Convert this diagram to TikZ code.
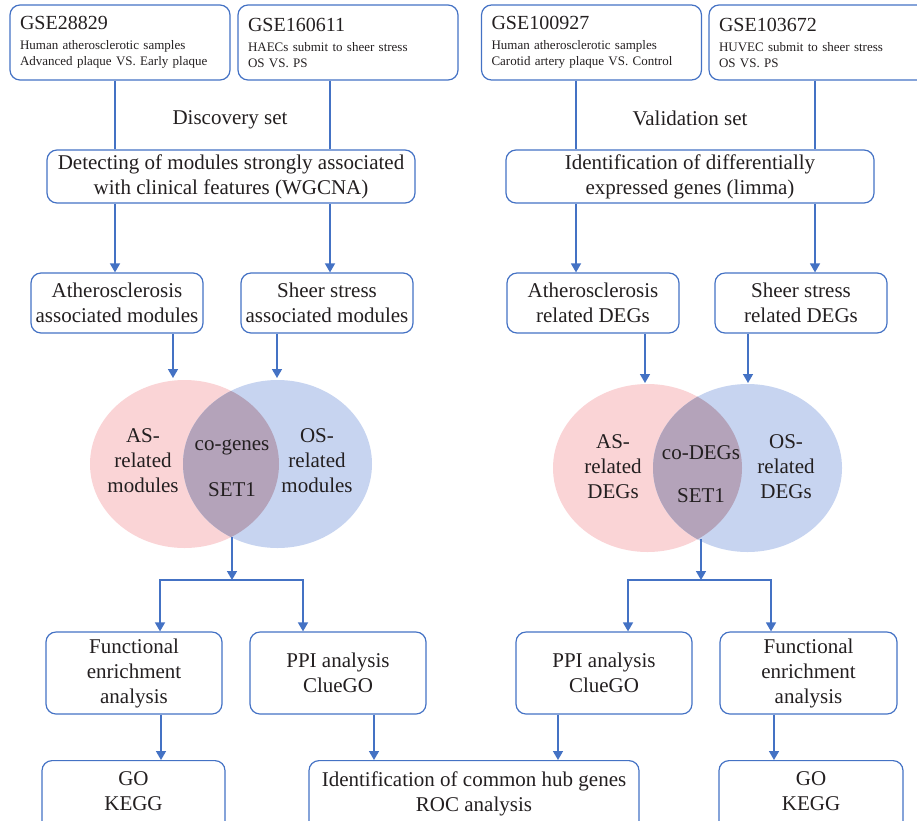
\documentclass[tikz,border=0pt]{standalone}
\usepackage{fontspec}
\setmainfont{Liberation Serif}
\usetikzlibrary{arrows.meta}

\definecolor{linkblue}{RGB}{68,114,196}
\definecolor{aspink}{RGB}{250,212,214}
\definecolor{osblue}{RGB}{199,212,240}
\definecolor{comauve}{RGB}{180,163,186}
\definecolor{inkgray}{RGB}{35,31,32}

\tikzset{
  box/.style={draw=linkblue, line width=1.2pt, rounded corners=10pt, align=center,
    inner sep=0pt, text=inkgray, font=\fontsize{21}{25}\selectfont},
  topbox/.style={box, align=left, text width=200pt, minimum width=220pt,
    minimum height=75pt, inner xsep=10pt, font=\fontsize{13}{16}\selectfont},
  cutbox/.style={box, anchor=north, inner ysep=11pt},
  vtext/.style={align=center, text=inkgray, font=\fontsize{21}{25}\selectfont},
  link/.style={draw=linkblue, line width=1.5pt},
  arr/.style={link, -{Triangle[width=10pt,length=9pt]}},
}

\begin{document}
\begin{tikzpicture}[x=1pt, y=-1pt]
    \useasboundingbox (0,0) rectangle (917,820);

    % columns of the connectors
    \coordinate (a1) at (115,0);
    \coordinate (a2) at (330,0);
    \coordinate (a3) at (576,0);
    \coordinate (a4) at (815,0);
    \coordinate (b1) at (173,378);
    \coordinate (b2) at (277,378);
    \coordinate (b3) at (645,383);
    \coordinate (b4) at (748,383);
    \coordinate (c1) at (160,0);
    \coordinate (c2) at (303,0);
    \coordinate (c3) at (628,0);
    \coordinate (c4) at (771,0);
    \coordinate (d1) at (161,0);
    \coordinate (d2) at (374,0);
    \coordinate (d3) at (558,0);
    \coordinate (d4) at (774,0);

    % data sets
    \node[topbox] (gse1) at (120,42.5) {{\fontsize{20}{20}\selectfont GSE28829}\\[4pt]
        Human atherosclerotic samples\\Advanced plaque VS. Early plaque};
    \node[topbox] (gse2) at (348,42.5) {{\fontsize{20}{20}\selectfont GSE160611}\\[4pt]
        HAECs submit to sheer stress\\OS VS. PS};
    \node[topbox] (gse3) at (591.5,42.5) {{\fontsize{20}{20}\selectfont GSE100927}\\[4pt]
        Human atherosclerotic samples\\Carotid artery plaque VS. Control};
    \node[topbox] (gse4) at (819,42.5) {{\fontsize{20}{20}\selectfont GSE103672}\\[4pt]
        HUVEC submit to sheer stress\\OS VS. PS};

    \node[vtext] (discovery) at (230,120) {Discovery set};
    \node[vtext] (validation) at (690,118) {Validation set};

    \node[box, minimum width=368pt, minimum height=53pt] (wgcna) at (231,176.5)
        {Detecting of modules strongly associated\\with clinical features (WGCNA)};
    \node[box, minimum width=368pt, minimum height=53pt] (limma) at (690,176.5)
        {Identification of differentially\\expressed genes (limma)};

    \node[box, minimum width=172pt, minimum height=60pt] (asmod) at (117,303)
        {Atherosclerosis\\associated modules};
    \node[box, minimum width=172pt, minimum height=60pt] (ssmod) at (327,303)
        {Sheer stress\\associated modules};
    \node[box, minimum width=172pt, minimum height=60pt] (asdeg) at (593,303)
        {Atherosclerosis\\related DEGs};
    \node[box, minimum width=172pt, minimum height=60pt] (ssdeg) at (801,303)
        {Sheer stress\\related DEGs};

    % venn diagrams
    \fill[aspink] (184.5,464) ellipse [x radius=94.5, y radius=84];
    \fill[osblue] (277.5,464) ellipse [x radius=94.5, y radius=84];
    \begin{scope}
        \clip (184.5,464) ellipse [x radius=94.5, y radius=84];
        \fill[comauve] (277.5,464) ellipse [x radius=94.5, y radius=84];
    \end{scope}
    \fill[aspink] (647.5,468) ellipse [x radius=94.5, y radius=84];
    \fill[osblue] (747.5,468) ellipse [x radius=94.5, y radius=84];
    \begin{scope}
        \clip (647.5,468) ellipse [x radius=94.5, y radius=84];
        \fill[comauve] (747.5,468) ellipse [x radius=94.5, y radius=84];
    \end{scope}

    \node[vtext] (asmodset) at (143,461) {AS-\\related\\modules};
    \node[vtext] (cogenes) at (232,447) {co-genes};
    \node[vtext] (setleft) at (232,490) {SET1};
    \node[vtext] (osmodset) at (317,461) {OS-\\related\\modules};
    \node[vtext] (asdegset) at (613,467) {AS-\\related\\DEGs};
    \node[vtext] (codegs) at (701,453) {co-DEGs};
    \node[vtext] (setright) at (701,496) {SET1};
    \node[vtext] (osdegset) at (786,467) {OS-\\related\\DEGs};

    \coordinate (lensL) at (232,537);
    \coordinate (forkL) at (232,580);
    \coordinate (lensR) at (701,539);
    \coordinate (forkR) at (701,580);

    % analyses
    \node[box, minimum width=176pt, minimum height=82pt] (funcL) at (134,673)
        {Functional\\enrichment\\analysis};
    \node[box, minimum width=176pt, minimum height=82pt] (ppiL) at (338,673)
        {PPI analysis\\ClueGO};
    \node[box, minimum width=176pt, minimum height=82pt] (ppiR) at (604,673)
        {PPI analysis\\ClueGO};
    \node[box, minimum width=177pt, minimum height=82pt] (funcR) at (808.5,673)
        {Functional\\enrichment\\analysis};

    \node[cutbox, minimum width=183pt] (goL) at (133.5,760) {GO\\KEGG\\\strut};
    \node[cutbox, minimum width=330pt] (hub) at (474,760)
        {Identification of common hub genes\\ROC analysis\\\strut};
    \node[cutbox, minimum width=184pt] (goR) at (811,760) {GO\\KEGG\\\strut};

    % connectors
    \draw[link] (gse1.south -| a1) -- (wgcna.north -| a1);
    \draw[link] (gse2.south -| a2) -- (wgcna.north -| a2);
    \draw[link] (gse3.south -| a3) -- (limma.north -| a3);
    \draw[link] (gse4.south -| a4) -- (limma.north -| a4);

    \draw[arr] (wgcna.south -| a1) -- (asmod.north -| a1);
    \draw[arr] (wgcna.south -| a2) -- (ssmod.north -| a2);
    \draw[arr] (limma.south -| a3) -- (asdeg.north -| a3);
    \draw[arr] (limma.south -| a4) -- (ssdeg.north -| a4);

    \draw[arr] (asmod.south -| b1) -- (b1);
    \draw[arr] (ssmod.south -| b2) -- (b2);
    \draw[arr] (asdeg.south -| b3) -- (b3);
    \draw[arr] (ssdeg.south -| b4) -- (b4);

    \draw[arr] (lensL) -- (forkL);
    \draw[arr] (forkL) -| (funcL.north -| c1);
    \draw[arr] (forkL) -| (ppiL.north -| c2);
    \draw[arr] (lensR) -- (forkR);
    \draw[arr] (forkR) -| (ppiR.north -| c3);
    \draw[arr] (forkR) -| (funcR.north -| c4);

    \draw[arr] (funcL.south -| d1) -- (goL.north -| d1);
    \draw[arr] (ppiL.south -| d2) -- (hub.north -| d2);
    \draw[arr] (ppiR.south -| d3) -- (hub.north -| d3);
    \draw[arr] (funcR.south -| d4) -- (goR.north -| d4);
\end{tikzpicture}
\end{document}
